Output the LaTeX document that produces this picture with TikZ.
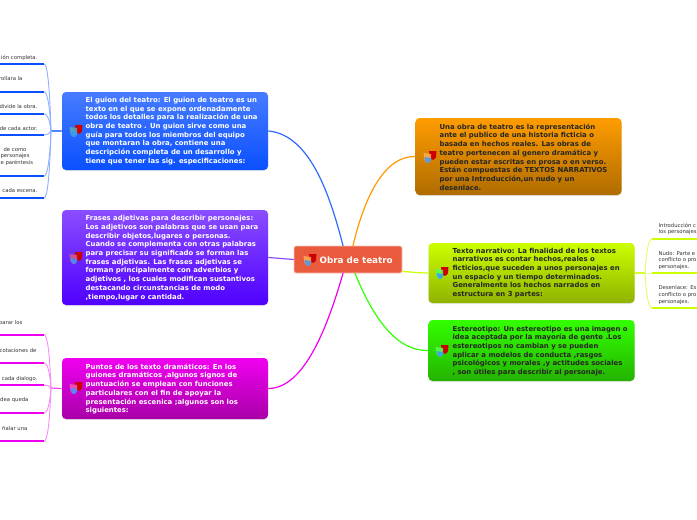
\documentclass[tikz,border=0pt]{standalone}
\usepackage{fontspec}
\setmainfont{DejaVu Sans}
\usetikzlibrary{shadows}

\definecolor{guionc}{HTML}{0A50FF}
\definecolor{frasesc}{HTML}{8A4DFF}
\definecolor{frasesb}{HTML}{4F00FF}
\definecolor{puntosc}{HTML}{F000F0}
\definecolor{obrac}{HTML}{FF9C00}
\definecolor{obrab}{HTML}{AF6C00}
\definecolor{textoc}{HTML}{CCFF00}
\definecolor{esterc}{HTML}{33FF00}
\definecolor{rootc}{HTML}{EA5A3C}

\tikzset{
  branchbox/.style={rounded corners=4pt, minimum width=206pt, inner sep=0pt,
    drop shadow={shadow xshift=0pt, shadow yshift=-1pt, opacity=.18}},
  boxtext/.style={anchor=west, align=left, inner sep=0pt, font=\fontsize{6.9}{8.7}\selectfont\bfseries},
  leaftext/.style={inner sep=0pt, align=left, font=\fontsize{5.3}{6.6}\selectfont, text=black!80},
  rightleaf/.style={leaftext, anchor=west},
  leftleaf/.style={leaftext, anchor=east, align=right},
  masks/.pic={
    \fill[red!80!black] (-1,-6) -- (6.5,-6) -- (6,0) .. controls (5,3) and (2,4) .. (0,1) -- cycle;
    \fill[#1!65!white, opacity=.85] (-6.5,-4) -- (1,-3) -- (1,3) .. controls (0,7) and (-4,7) .. (-5.5,3) -- cycle;
    \fill[blue!50!cyan!80!white, opacity=.8] (-5.5,0) -- (1,1) -- (1,3) .. controls (0,7) and (-4,7) .. (-5,3) -- cycle;
  },
  masks/.default=teal,
}

\begin{document}
\begin{tikzpicture}[x=1pt, y=-1pt, line width=1.2pt, line cap=round, line join=round]

  %% hoja de fondo
  \fill[white] (0,0) rectangle (697,520);

  %% nodo central
  \node[rounded corners=2pt, draw=rootc!35!white, line width=.8pt, fill=rootc, minimum width=108pt, minimum height=27pt, inner sep=0pt] (root) at (348,259.5) {};
  \node[inner sep=0pt, anchor=west, text=white, font=\fontsize{8.8}{10}\selectfont\bfseries] (roottext) at (319,260.5) {Obra de teatro};
  \pic at (310,260) {masks=orange};

  %% ramas
  \node[branchbox, minimum height=78pt, top color=guionc!75!white, bottom color=guionc] (guion) at (165,131) {};
  \node[branchbox, minimum height=95pt, top color=frasesc, bottom color=frasesb] (frases) at (165,257.5) {};
  \node[branchbox, minimum height=61pt, top color=puntosc, bottom color=puntosc!70!black] (puntos) at (165,388.5) {};
  \node[branchbox, minimum height=77pt, top color=obrac, bottom color=obrab] (obra) at (518.5,156.5) {};
  \node[branchbox, minimum height=60pt, top color=textoc, bottom color=textoc!70!black] (texto) at (531.5,273) {};
  \node[branchbox, minimum height=61pt, top color=esterc, bottom color=esterc!70!black] (ester) at (531.5,350.5) {};

  %% textos de las ramas
  \node[boxtext, text=white] (guiontext) at (85,131) {El guion del teatro: El guion de teatro es un\\texto en el que se expone ordenadamente\\todos los detalles para la realización de una\\obra de teatro . Un guion sirve como una\\guía para todos los miembros del equipo\\que montaran la obra, contiene una\\descripción completa de un desarrollo y\\tiene que tener las sig. especificaciones:};
  \node[boxtext, text=white] (frasestext) at (85,258) {Frases adjetivas para describir personajes:\\Los adjetivos son palabras que se usan para\\describir objetos,lugares o personas.\\Cuando se complementa con otras palabras\\para precisar su significado se forman las\\frases adjetivas. Las frases adjetivas se\\forman principalmente con adverbios y\\adjetivos , los cuales modifican sustantivos\\destacando circunstancias de modo\\,tiempo,lugar o cantidad.};
  \node[boxtext, text=white] (puntostext) at (85,389) {Puntos de los texto dramáticos: En los\\guiones dramáticos ,algunos signos de\\puntuación se emplean con funciones\\particulares con el fin de apoyar la\\presentación escenica ;algunos son los\\siguientes:};
  \node[boxtext, text=black!85] (obratext) at (439,157) {Una obra de teatro es la representación\\ante el publico de una historia ficticia o\\basada en hechos reales. Las obras de\\teatro pertenecen al genero dramática y\\pueden estar escritas en prosa o en verso.\\Están compuestas de TEXTOS NARRATIVOS\\por una Introducción,un nudo y un\\desenlace.};
  \node[boxtext, text=black!85] (textotext) at (452,273) {Texto narrativo: La finalidad de los textos\\narrativos es contar hechos,reales o\\ficticios,que suceden a unos personajes en\\un espacio y un tiempo determinados.\\Generalmente los hechos narrados en\\estructura en 3 partes:};
  \node[boxtext, text=black!85] (estertext) at (452,351) {Estereotipo: Un estereotipo es una imagen o\\idea aceptada por la mayoría de gente .Los\\estereotipos no cambian y se pueden\\aplicar a modelos de conducta ,rasgos\\psicológicos y morales ,y actitudes sociales\\, son útiles para describir al personaje.};

  \pic at (76,131) {masks=teal};
  \pic at (76,258) {masks=purple};
  \pic at (76,388) {masks=magenta};
  \pic at (430,157) {masks=orange};
  \pic at (442,273) {masks=green};
  \pic at (442,351) {masks=green};

  %% conectores centrales
  \draw[guionc!85!white] (guion.east) .. controls (310,135) and (330,195) .. ([xshift=-5pt]root.north);
  \draw[orange!80!yellow] ([xshift=5pt]root.north) .. controls (365,195) and (385,156) .. (obra.west);
  \draw[frasesc] (frases.east) -- (root.west);
  \draw[puntosc] (puntos.east) .. controls (305,388) and (328,325) .. ([xshift=-5pt]root.south);
  \draw[textoc] ([yshift=-12pt]root.east) .. controls (412,272) and (420,273) .. (texto.west);
  \draw[esterc] ([xshift=7pt]root.south) .. controls (375,322) and (398,351) .. (ester.west);

  %% hojas izquierdas, rama azul
  \coordinate (jguion) at (51,131);
  \draw[guionc!70!white] (guion.west) -- (jguion);
  \foreach \y in {64,92,114,135,176,198} {
    \draw[guionc!45!white, line width=.9pt] (44,\y) .. controls +(3,0) and +(-1.5,{(\y-131)*.75}) .. (jguion);
    \draw[guionc, line width=2pt, line cap=butt] (44,\y) -- (0,\y);
  }
  \node[leftleaf] (g1) at (38,58) {ión completa.};
  \node[leftleaf] (g2) at (23,78.5) {rollara la};
  \node[leftleaf] (g3) at (38,107) {divide la obra.};
  \node[leftleaf] (g4) at (38,129) {de cada actor.};
  \node[leaftext, anchor=west] (g5) at (0,156.5) {\hspace{3pt}de como\\personajes\\e paréntesis};
  \node[leftleaf] (g6) at (38,191) {cada escena.};

  %% hojas izquierdas, rama rosa
  \coordinate (jpuntos) at (51,388);
  \draw[puntosc!70!white] (puntos.west) -- (jpuntos);
  \foreach \y in {335,363,385,413,441} {
    \draw[puntosc!45!white, line width=.9pt] (44,\y) .. controls +(3,0) and +(-1.5,{(\y-388)*.75}) .. (jpuntos);
    \draw[puntosc, line width=2pt, line cap=butt] (44,\y) -- (0,\y);
  }
  \node[leftleaf] (p1) at (23,323) {parar los};
  \node[leftleaf] (p2) at (37,351) {cotaciones de};
  \node[leftleaf] (p3) at (38,379) {cada dialogo.};
  \node[leftleaf] (p4) at (29,400) {idea queda};
  \node[leftleaf] (p5) at (28,428) {ñalar una};

  %% hojas derechas
  \coordinate (jtexto) at (645,273);
  \draw[textoc!80!white] (texto.east) -- (jtexto);
  \foreach \y in {239,273,308} {
    \draw[textoc!60!white, line width=.9pt] (652,\y) .. controls +(-3,0) and +(1.5,{(\y-273)*.75}) .. (jtexto);
    \draw[textoc, line width=2pt, line cap=butt] (652,\y) -- (697,\y);
  }
  \node[rightleaf] (t1) at (658,229) {Introducción c\\los personajes};
  \node[rightleaf] (t2) at (658,260.5) {Nudo: Parte e\\conflicto o pro\\personajes.};
  \node[rightleaf] (t3) at (658,295) {Desenlace: Es\\conflicto o pro\\personajes.};

  \pgfresetboundingbox
  \path[use as bounding box] (0,0) rectangle (697,520);
\end{tikzpicture}
\end{document}
